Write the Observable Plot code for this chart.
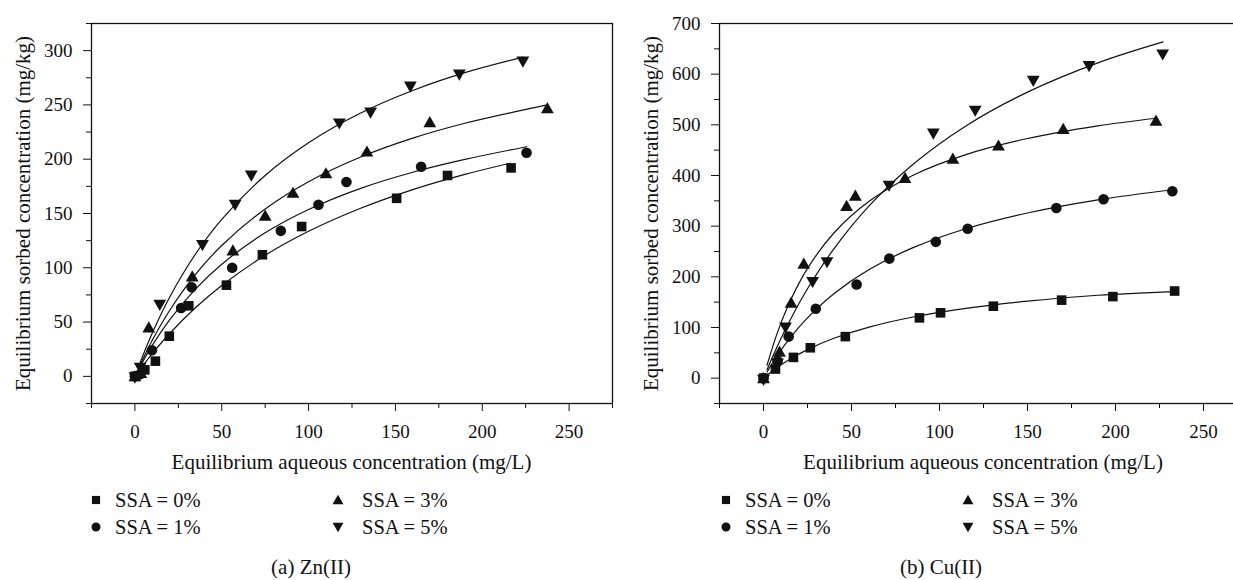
<!DOCTYPE html>
<html><head><meta charset="utf-8">
<script src="https://cdn.jsdelivr.net/npm/d3@7"></script>
<script src="https://cdn.jsdelivr.net/npm/@observablehq/plot@0.6"></script>
<style>
html,body{margin:0;padding:0;background:#fff;}
body{width:1233px;height:580px;overflow:hidden;position:relative;font-family:"Liberation Serif","DejaVu Serif",serif;color:#111;}
.abs{position:absolute;}
.abs svg{max-width:none !important;}
.t{position:absolute;white-space:nowrap;line-height:1;}
.c{transform:translate(-50%,-50%);}
.l{transform:translate(0,-50%);}
</style></head><body>
<div id="A" class="abs" style="left:0;top:0;width:616px;height:445px"></div>
<div id="B" class="abs" style="left:628px;top:0;width:640px;height:445px"></div>
<div id="extra"></div>
<script>
// ---------- data ----------
const seriesLabels = ["SSA = 0%", "SSA = 1%", "SSA = 3%", "SSA = 5%"];
const captions = ["(a)  Zn(II)", "(b)  Cu(II)"];
const xTitle = "Equilibrium aqueous concentration (mg/L)";
const yTitle = "Equilibrium sorbed concentration (mg/kg)";

// Zn(II) measured points
const znX0 = [0, 5.7, 11.8, 19.8, 31, 52.7, 73.4, 96, 150.7, 180, 216.6];
const znY0 = [0, 6, 14, 37, 65, 84, 112, 138, 164, 185, 192];
const znX1 = [0, 3, 9.8, 26.6, 32.7, 56, 84, 105.7, 121.8, 164.8, 225.5];
const znY1 = [0, 2, 24, 63, 82, 100, 134, 158, 179, 193, 206];
const znX3 = [0, 3.4, 8, 33, 56.4, 75, 91, 110, 133.6, 169.8, 237.5];
const znY3 = [0, 3, 45, 92, 116, 148, 169, 187, 207, 234, 247];
const znX5 = [0, 3, 14.3, 38.9, 57.7, 67, 117.7, 135.7, 158.6, 186.8, 223.4];
const znY5 = [-1, 8, 66, 121, 158, 185, 233, 243, 267, 278, 290];

// Zn(II) fitted curves
const znFitX0 = [2, 10, 20, 35, 50, 75, 100, 130, 160, 190, 216];
const znFitY0 = [4.4, 21, 39.5, 63.4, 83.7, 111.5, 133.6, 154.8, 172, 186, 196.3];
const znFitX1 = [2, 10, 20, 35, 50, 75, 100, 130, 160, 190, 225.5];
const znFitY1 = [6.2, 28.5, 52.1, 80.6, 103.3, 132.2, 153.7, 173.2, 188, 199.8, 211.5];
const znFitX3 = [2, 10, 20, 35, 50, 75, 100, 130, 160, 190, 237.5];
const znFitY3 = [7.2, 33.3, 60.7, 94.1, 120.5, 154.2, 179.3, 202, 219.4, 233.1, 250];
const znFitX5 = [2, 10, 20, 35, 50, 75, 100, 130, 160, 190, 223.4];
const znFitY5 = [8.6, 39.9, 72.9, 112.9, 144.6, 185, 215.1, 242.5, 263.3, 279.7, 294];

// Cu(II) measured points
const cuX0 = [0, 6.8, 17, 26.6, 46.5, 88.6, 100.6, 130.6, 169.4, 198.5, 233.6];
const cuY0 = [0, 18, 41, 60, 82, 119, 129, 142, 154, 161, 172];
const cuX1 = [0, 8, 14.3, 29.7, 52.9, 71.5, 97.9, 116, 166.4, 193.2, 232.3];
const cuY1 = [0, 34, 82, 137, 185, 236, 269, 295, 336, 353, 369];
const cuX3 = [0, 9.1, 15.7, 22.9, 47.2, 52.2, 80.4, 107.6, 133.5, 170.3, 223];
const cuY3 = [0, 52, 149, 226, 340, 360, 395, 433, 459, 492, 508];
const cuX5 = [0, 8, 12.5, 27.9, 36.1, 71.3, 96.5, 120.3, 153.3, 185, 226.8];
const cuY5 = [-3, 29, 100, 190, 229, 380, 483, 528, 587, 616, 639];

// Cu(II) fitted curves
const cuFitX0 = [2, 8, 15, 25, 40, 60, 85, 115, 150, 190, 233.6];
const cuFitY0 = [5.8, 21.7, 37.5, 56.4, 78.7, 100.8, 120.7, 137.8, 152, 163.7, 171];
const cuFitX1 = [2, 8, 15, 25, 40, 60, 85, 115, 150, 190, 232.3];
const cuFitY1 = [12.2, 45.5, 79, 119, 166.7, 214.3, 257.6, 294.9, 326, 351.9, 371.9];
const cuFitX3 = [2, 8, 15, 25, 40, 60, 85, 115, 150, 190, 223];
const cuFitY3 = [25.5, 90.9, 151, 216.6, 286.5, 349, 400.6, 441.3, 473, 497.9, 513];
const cuFitX5 = [2, 8, 15, 25, 40, 60, 85, 115, 150, 190, 227];
const cuFitY5 = [16.8, 64, 113.8, 176.4, 255.3, 340, 422.3, 497.9, 564.6, 622.3, 663.6];

// axis ticks
const xMajor = [0, 50, 100, 150, 200, 250];
const xMinor = [-25, 25, 75, 125, 175, 225, 275];
const znYMajor = [0, 50, 100, 150, 200, 250, 300];
const znYMinor = [-25, 25, 75, 125, 175, 225, 275, 325];
const cuYMajor = [0, 100, 200, 300, 400, 500, 600, 700];
const cuYMinor = [-50, 50, 150, 250, 350, 450, 550, 650];

// ---------- symbols ----------
const INK = "#111";
const FONT = '"Liberation Serif", "DejaVu Serif", serif';
const symbols = [
  {draw(c) { c.rect(-4.8, -4.8, 9.6, 9.6); }},
  {draw(c) { c.moveTo(5.3, 0); c.arc(0, 0, 5.3, 0, 2 * Math.PI); c.closePath(); }},
  {draw(c) { c.moveTo(0, -6.2); c.lineTo(6.4, 5); c.lineTo(-6.4, 5); c.closePath(); }},
  {draw(c) { c.moveTo(0, 6.2); c.lineTo(-6.4, -5); c.lineTo(6.4, -5); c.closePath(); }}
];

const zip = (xs, ys) => xs.map((x, i) => ({x, y: ys[i]}));

function panel(pts, fits, yDomain, yMajor, yMinor, width, marginRight) {
  const marks = [];
  fits.forEach(f => marks.push(Plot.line(f, {x: "x", y: "y", curve: "catmull-rom", stroke: INK, strokeWidth: 1.2})));
  pts.forEach((p, i) => marks.push(Plot.dot(p, {x: "x", y: "y", symbol: symbols[i], r: 5, fill: INK, stroke: "none"})));
  marks.push(
    Plot.axisY(yMajor, {tickSize: 8, tickPadding: 11, fontSize: 19, stroke: INK, fill: INK, label: null}),
    Plot.axisY(yMinor, {tickSize: 5, tickFormat: () => "", label: null, stroke: INK}),
    Plot.axisX(xMajor, {tickSize: 8, tickPadding: 13, fontSize: 19, label: null, stroke: INK, fill: INK}),
    Plot.axisX(xMinor, {tickSize: 5, tickFormat: () => "", label: null, stroke: INK}),
    Plot.text([yTitle], {frameAnchor: "left", rotate: -90, dx: -68, fontSize: 21, fill: INK, textAnchor: "middle", lineAnchor: "middle"}),
    Plot.frame({stroke: INK, strokeWidth: 1.3})
  );
  return Plot.plot({
    width, height: 445,
    marginLeft: 91, marginRight, marginTop: 23, marginBottom: 42,
    x: {domain: [-25, 275]},
    y: {domain: yDomain},
    style: {fontFamily: FONT, fontSize: "19px", color: INK, background: "transparent", overflow: "visible", maxWidth: "none"},
    marks
  });
}

const znPts = [zip(znX0, znY0), zip(znX1, znY1), zip(znX3, znY3), zip(znX5, znY5)];
const znFits = [zip(znFitX0, znFitY0), zip(znFitX1, znFitY1), zip(znFitX3, znFitY3), zip(znFitX5, znFitY5)];
const cuPts = [zip(cuX0, cuY0), zip(cuX1, cuY1), zip(cuX3, cuY3), zip(cuX5, cuY5)];
const cuFits = [zip(cuFitX0, cuFitY0), zip(cuFitX1, cuFitY1), zip(cuFitX3, cuFitY3), zip(cuFitX5, cuFitY5)];

document.getElementById("A").append(panel(znPts, znFits, [-25, 325], znYMajor, znYMinor, 616, 4));
document.getElementById("B").append(panel(cuPts, cuFits, [-50, 700], cuYMajor, cuYMinor, 640, 21));

// ---------- titles, legends, captions ----------
const extra = document.getElementById("extra");
function addText(txt, x, y, cls, size) {
  const d = document.createElement("div");
  d.className = "t " + cls;
  d.style.left = x + "px"; d.style.top = y + "px";
  d.style.fontSize = size + "px";
  d.textContent = txt;
  extra.append(d);
}
function addSym(i, x, y) {
  const ns = "http://www.w3.org/2000/svg";
  const s = document.createElementNS(ns, "svg");
  s.setAttribute("width", 16); s.setAttribute("height", 16);
  s.style.position = "absolute"; s.style.left = (x - 8) + "px"; s.style.top = (y - 8) + "px";
  const p = document.createElementNS(ns, "path");
  const path = d3.path();
  const scale = 0.85;
  const ctx = {
    moveTo: (a, b) => path.moveTo(8 + a * scale, 8 + b * scale),
    lineTo: (a, b) => path.lineTo(8 + a * scale, 8 + b * scale),
    rect: (a, b, w, h) => path.rect(8 + a * scale, 8 + b * scale, w * scale, h * scale),
    arc: (a, b, r, s0, s1) => path.arc(8 + a * scale, 8 + b * scale, r * scale, s0, s1),
    closePath: () => path.closePath()
  };
  symbols[i].draw(ctx);
  p.setAttribute("d", path.toString());
  p.setAttribute("fill", INK);
  s.append(p);
  extra.append(s);
}
const panelOffsets = [0, 630];
const frameCenters = [351.5, 983];
panelOffsets.forEach((off, k) => {
  addText(xTitle, frameCenters[k], 462, "c", 21);
  const cols = [[96, 115], [338, 362]];
  const rows = [500, 527];
  const order = [[0, 0, 0], [1, 0, 1], [2, 1, 0], [3, 1, 1]];
  order.forEach(([i, c, r]) => {
    addSym(i, cols[c][0] + off, rows[r]);
    addText(seriesLabels[i], cols[c][1] + off, rows[r], "l", 20.5);
  });
  addText(captions[k], 311 + off, 567, "c", 21);
});
</script>
</body></html>
